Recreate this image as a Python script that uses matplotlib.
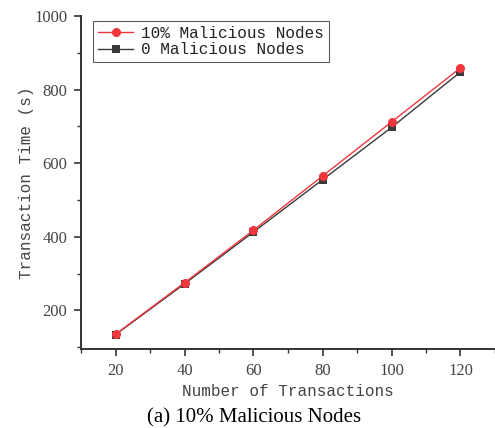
import matplotlib
matplotlib.use("Agg")
import matplotlib.pyplot as plt
from matplotlib.ticker import MultipleLocator

# data
n_trans = [20, 40, 60, 80, 100, 120]
time_mal10 = [135, 275, 418, 565, 712, 859]
time_mal0 = [134, 272, 413, 555, 697, 848]
label_mal10 = "10% Malicious Nodes"
label_mal0 = "0 Malicious Nodes"

mono = ["Liberation Mono", "DejaVu Sans Mono"]
serif = ["Liberation Serif", "DejaVu Serif"]
txt = "#444444"

fig = plt.figure(figsize=(4.95, 4.28), dpi=100)
ax = fig.add_axes([81 / 495, 1 - 349 / 428, 1 - 81 / 495, 333 / 428])

ax.plot(n_trans, time_mal10, color="#f0363d", lw=1.0, marker="o", ms=6.5,
        markeredgewidth=0, label=label_mal10, zorder=3)
ax.plot(n_trans, time_mal0, color="#3a3a3a", lw=1.0, marker="s", ms=5.5,
        markeredgewidth=0, label=label_mal0, zorder=2)

ax.set_xlim(10, 130)
ax.set_ylim(95, 1000)
ax.xaxis.set_major_locator(MultipleLocator(20))
ax.xaxis.set_minor_locator(MultipleLocator(10))
ax.yaxis.set_major_locator(MultipleLocator(200))
ax.yaxis.set_minor_locator(MultipleLocator(100))

for s in ["top", "right"]:
    ax.spines[s].set_visible(False)
for s in ["left", "bottom"]:
    ax.spines[s].set_color("#333333")
    ax.spines[s].set_linewidth(1.4)
ax.tick_params(which="major", direction="out", length=5, width=1.2, colors="#333333", pad=5)
ax.tick_params(which="minor", direction="out", length=3, width=1.0, colors="#333333")
for lab in ax.get_xticklabels() + ax.get_yticklabels():
    lab.set_family(serif)
    lab.set_fontsize(12)
    lab.set_color(txt)

ax.set_xlabel("Number of Transactions", family=mono, fontsize=11.5, color=txt, labelpad=4)
ax.set_ylabel("Transaction Time (s)", family=mono, fontsize=11.5, color=txt, labelpad=0)
ax.yaxis.set_label_coords(-47 / 414, 0.5)

leg = ax.legend(loc="upper left", bbox_to_anchor=(0.03, 0.985), prop={"family": mono, "size": 11.5},
                frameon=True, fancybox=False, edgecolor="#333333", handlelength=2.2,
                handletextpad=0.5, borderpad=0.3, labelspacing=0.1, borderaxespad=0)
leg.get_frame().set_linewidth(0.8)
for t in leg.get_texts():
    t.set_color("#222222")

fig.text(254 / 495, 1 - 418 / 428, "(a) 10% Malicious Nodes", family=serif, fontsize=15,
         ha="center", va="center", color="black")

fig.savefig("out.png", dpi=100)
